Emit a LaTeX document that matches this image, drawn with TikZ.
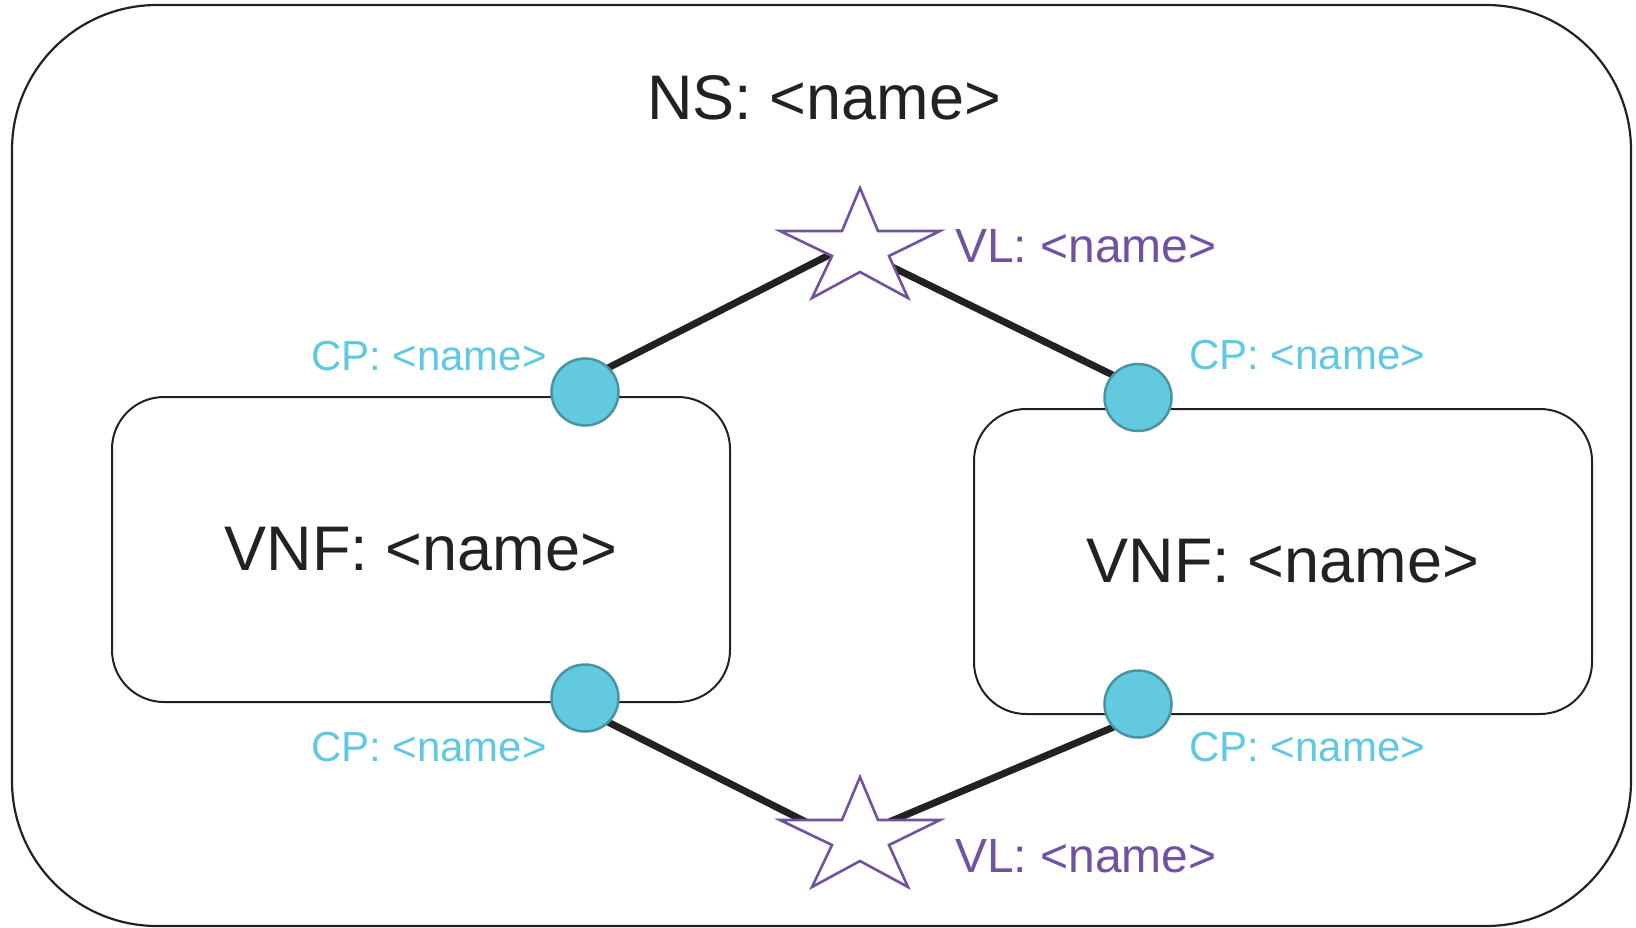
\documentclass[tikz,border=0pt]{standalone}
\usepackage{fontspec}
\setmainfont{Liberation Sans}
\definecolor{inkc}{RGB}{34,34,34}
\definecolor{vlc}{RGB}{112,82,160}
\definecolor{cptext}{RGB}{95,201,225}
\definecolor{cpfill}{RGB}{99,201,223}
\definecolor{cpdraw}{RGB}{72,148,163}
\tikzset{
  nsframe/.style={draw=inkc, line width=2.2pt, rounded corners=145pt, minimum width=1619pt, minimum height=921pt, inner sep=0pt},
  vnfbox/.style={draw=inkc, line width=2pt, rounded corners=52pt, minimum width=618pt, minimum height=305pt, inner sep=0pt, font=\fontsize{63}{70}\selectfont, text=inkc},
  bigtext/.style={inner sep=0pt, font=\fontsize{63}{70}\selectfont, text=inkc},
  cplabel/.style={inner sep=0pt, font=\fontsize{42}{48}\selectfont, text=cptext},
  vllabel/.style={inner sep=0pt, font=\fontsize{48}{54}\selectfont, text=vlc},
  cpdot/.style={circle, fill=cpfill, draw=cpdraw, line width=2.5pt, minimum size=67pt, inner sep=0pt},
  link/.style={draw=inkc, line width=7pt},
  vlstar/.style={draw=vlc, fill=white, line width=2.6pt, line join=miter}
}
\begin{document}
\begin{tikzpicture}[x=1pt,y=-1pt]
\useasboundingbox (0,0) rectangle (1636,928);
% container
\node[nsframe] (ns) at (821.5,465.5) {};
\node[bigtext, anchor=base west] (nslabel) at (647,120) {NS: <name>};
% VNF boxes
\node[vnfbox] (vnf1) at (421,549.5) {VNF: <name>};
\node[vnfbox] (vnf2) at (1283,561.5) {VNF: <name>};
% VL centers
\coordinate (vl1) at (860,250);
\coordinate (vl2) at (860,839);
% CP positions
\coordinate (cp1c) at (585,392);
\coordinate (cp2c) at (585,698);
\coordinate (cp3c) at (1138,397.5);
\coordinate (cp4c) at (1138,704);
% link end points
\coordinate (l1a) at (594.6,374.8);
\coordinate (l1b) at (835,252);
\coordinate (l2a) at (888,265);
\coordinate (l2b) at (1129,383);
\coordinate (l3a) at (594,715);
\coordinate (l3b) at (808,823);
\coordinate (l4a) at (889,822);
\coordinate (l4b) at (1128,721);
% links
\draw[link] (l1a) -- (l1b);
\draw[link] (l2a) -- (l2b);
\draw[link] (l3a) -- (l3b);
\draw[link] (l4a) -- (l4b);
% stars
\begin{scope}[shift={(vl1)}]
\draw[vlstar] (0,-62) -- (18,-19) -- (80,-19) -- (29,6) -- (48,48) -- (0,22) -- (-48,48) -- (-28,6) -- (-80,-19) -- (-18,-19) -- cycle;
\end{scope}
\begin{scope}[shift={(vl2)}]
\draw[vlstar] (0,-62) -- (18,-19) -- (80,-19) -- (29,6) -- (48,48) -- (0,22) -- (-48,48) -- (-28,6) -- (-80,-19) -- (-18,-19) -- cycle;
\end{scope}
% CP dots
\node[cpdot] (cp1) at (cp1c) {};
\node[cpdot] (cp2) at (cp2c) {};
\node[cpdot] (cp3) at (cp3c) {};
\node[cpdot] (cp4) at (cp4c) {};
% labels
\node[cplabel, anchor=base east] (cp1l) at (547,370) {CP: <name>};
\node[cplabel, anchor=base east] (cp2l) at (547,761) {CP: <name>};
\node[cplabel, anchor=base west] (cp3l) at (1189,369) {CP: <name>};
\node[cplabel, anchor=base west] (cp4l) at (1189,761) {CP: <name>};
\node[vllabel, anchor=base west] (vl1l) at (955,262) {VL: <name>};
\node[vllabel, anchor=base west] (vl2l) at (955,872) {VL: <name>};
\end{tikzpicture}
\end{document}
